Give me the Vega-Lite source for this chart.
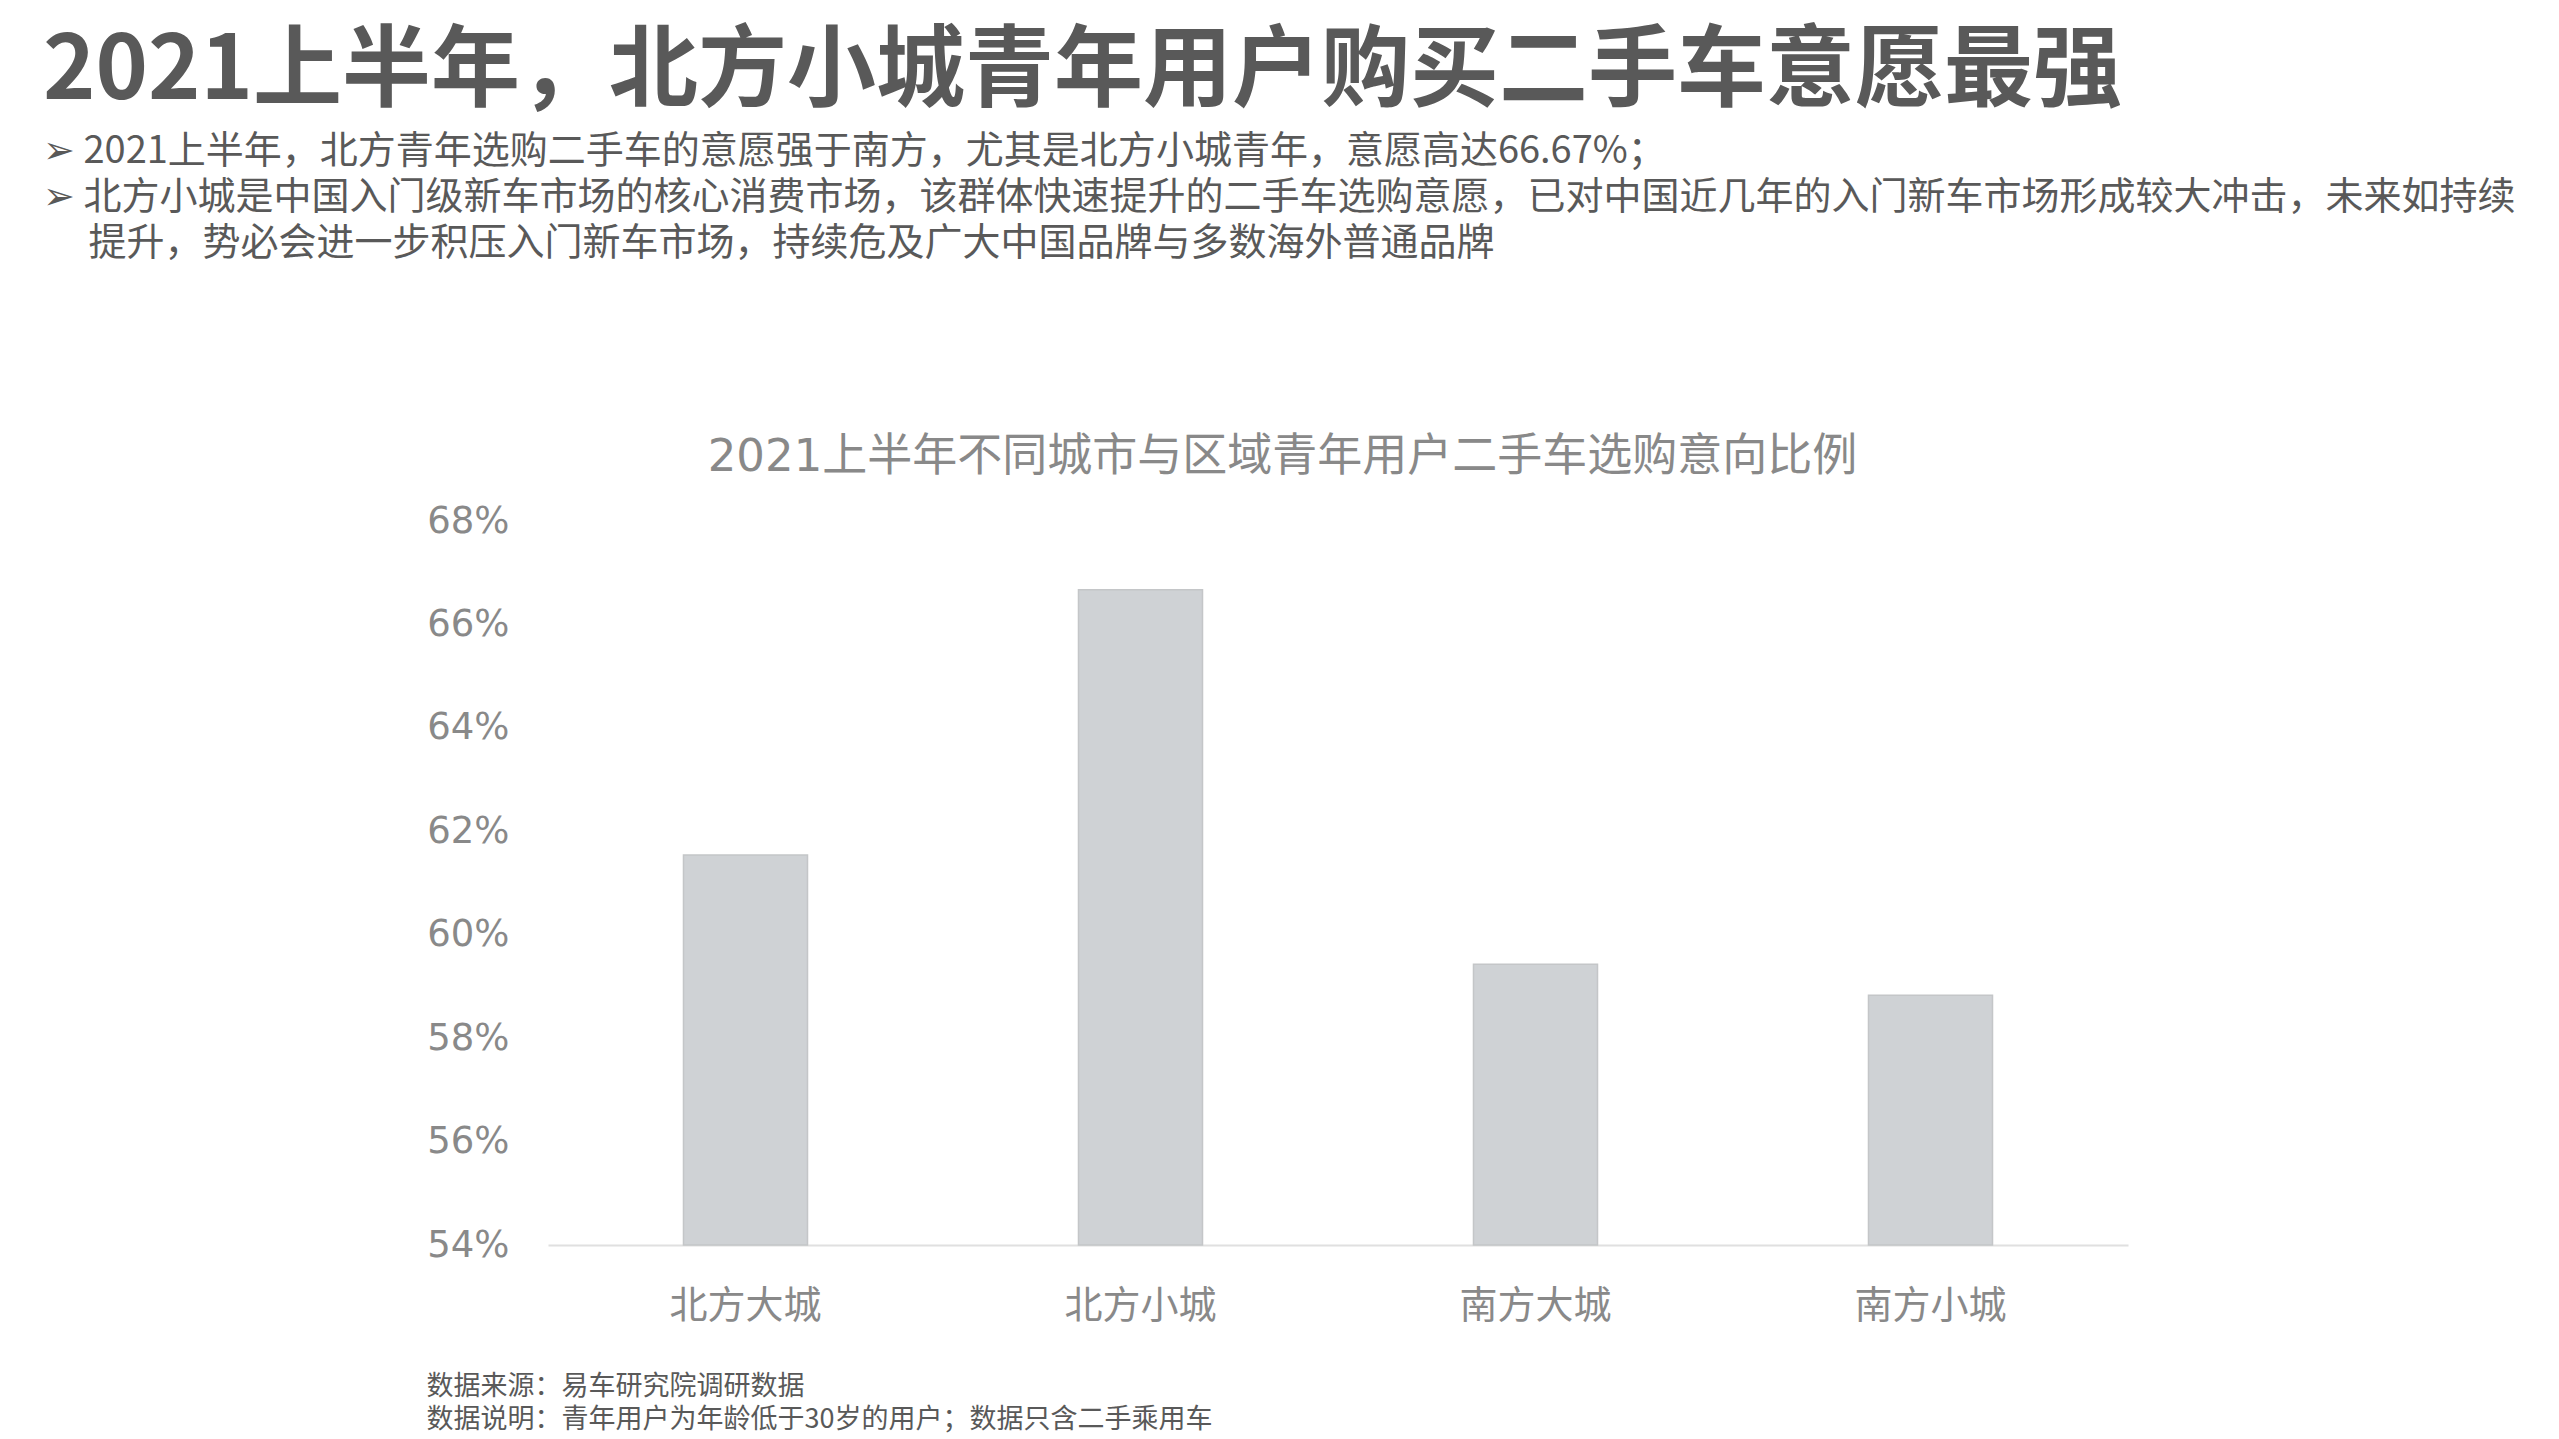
{
  "$schema": "https://vega.github.io/schema/vega-lite/v6.json",
  "width": 1580,
  "height": 724,
  "autosize": {"type": "none"},
  "padding": {"left": 548, "top": 521, "right": 431, "bottom": 194},
  "background": "white",
  "title": {
    "text": "2021上半年，北方小城青年用户购买二手车意愿最强",
    "subtitle": [
      "➢ 2021上半年，北方青年选购二手车的意愿强于南方，尤其是北方小城青年，意愿高达66.67%；",
      "➢ 北方小城是中国入门级新车市场的核心消费市场，该群体快速提升的二手车选购意愿，已对中国近几年的入门新车市场形成较大冲击，未来如持续",
      "\u200b\u3000\u2009提升，势必会进一步积压入门新车市场，持续危及广大中国品牌与多数海外普通品牌"
    ],
    "anchor": "start",
    "frame": "group",
    "dx": -505,
    "font": "Noto Sans CJK SC",
    "fontSize": 89,
    "fontWeight": "bold",
    "color": "#595959",
    "subtitleFont": "Noto Sans CJK SC",
    "subtitleFontSize": 38,
    "subtitleColor": "#595959",
    "subtitleLineHeight": 46,
    "subtitlePadding": 15,
    "offset": 170
  },
  "data": {
    "values": [
      {"region": "北方大城", "ratio": 0.6154},
      {"region": "北方小城", "ratio": 0.6667},
      {"region": "南方大城", "ratio": 0.5943},
      {"region": "南方小城", "ratio": 0.5883}
    ]
  },
  "mark": {"type": "bar", "fill": "#cfd2d5", "stroke": "#c4c6c8", "strokeWidth": 1.5},
  "encoding": {
    "x": {
      "field": "region",
      "type": "nominal",
      "sort": null,
      "scale": {"paddingInner": 0.686, "paddingOuter": 0.343},
      "axis": {
        "title": ["数据来源：易车研究院调研数据", "数据说明：青年用户为年龄低于30岁的用户；数据只含二手乘用车"],
        "titleX": -122,
        "titleY": 128,
        "titleAlign": "left",
        "titleBaseline": "top",
        "titleFont": "Noto Sans CJK SC",
        "titleFontSize": 27,
        "titleFontWeight": "normal",
        "titleColor": "#595959",
        "titleLineHeight": 33,
        "labelAngle": 0,
        "labelFont": "Noto Sans CJK SC",
        "labelFontSize": 38,
        "labelColor": "#898989",
        "labelPadding": 42,
        "ticks": false,
        "domainColor": "#e0e0e0",
        "domainWidth": 2
      }
    },
    "y": {
      "field": "ratio",
      "type": "quantitative",
      "scale": {"domain": [0.54, 0.68], "zero": false, "nice": false},
      "axis": {
        "title": "2021上半年不同城市与区域青年用户二手车选购意向比例",
        "titleAngle": 0,
        "titleX": 734,
        "titleY": -65,
        "titleAlign": "center",
        "titleBaseline": "middle",
        "titleFont": "DejaVu Sans, Noto Sans CJK SC",
        "titleFontSize": 45,
        "titleFontWeight": "normal",
        "titleColor": "#898989",
        "values": [0.54, 0.56, 0.58, 0.6, 0.62, 0.64, 0.66, 0.68],
        "format": ".0%",
        "labelFont": "DejaVu Sans",
        "labelFontSize": 37,
        "labelColor": "#898989",
        "labelPadding": 39,
        "ticks": false,
        "domain": false,
        "grid": false
      }
    },
    "y2": {"datum": 0.54}
  },
  "config": {"view": {"stroke": null}}
}
